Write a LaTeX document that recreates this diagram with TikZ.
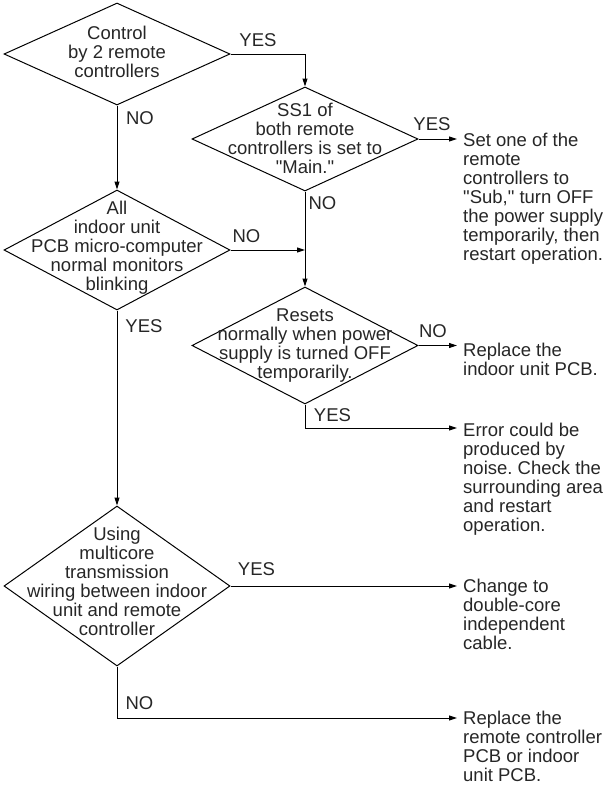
\documentclass[tikz,border=0pt]{standalone}
\usepackage{fontspec}
\setmainfont{Liberation Sans}
\usetikzlibrary{shapes.geometric,arrows.meta}
% plain font instance (no TeX ligature mapping) for straight double quotes
\font\qfnt="Liberation Sans" at 18.5pt
\newcommand{\dq}{{\qfnt\char34}}
\frenchspacing
\begin{document}
\begin{tikzpicture}[x=1pt,y=-1pt,
  txt/.style={font=\fontsize{18.5}{19}\selectfont, text=black!85, inner sep=0pt},
  decision/.style={draw, diamond, inner sep=0pt, line width=1pt, minimum width=226pt},
  question/.style={txt, align=center},
  answer/.style={txt, align=left, anchor=north west},
  tag/.style={txt},
  flow/.style={line width=1pt, -{Triangle[length=8pt,width=5pt]}}
]
\useasboundingbox (0,0) rectangle (611,785);

% decision diamonds
\node[decision, minimum height=102pt] (d1) at (117,54) {};
\node[decision, minimum height=104pt] (d2) at (305,139) {};
\node[decision, minimum height=120pt] (d3) at (117,250) {};
\node[decision, minimum height=117pt] (d4) at (305,345.5) {};
\node[decision, minimum height=160pt] (d5) at (117,586) {};

% questions
\node[question] (q1) at (117,52) {Control\\by 2 remote\\controllers};
\node[question] (q2) at (305,138) {SS1 of\\both remote\\controllers is set to\\\dq Main.\dq};
\node[question] (q3) at (117,248) {All\\indoor unit\\PCB micro-computer\\normal monitors\\blinking};
\node[question] (q4) at (305,345.5) {Resets\\normally when power\\supply is turned OFF\\temporarily.};
\node[question] (q5) at (117,581) {Using\\multicore\\transmission\\wiring between indoor\\unit and remote\\controller};

% outcomes
\node[answer] (a1) at (463,132.5) {Set one of the\\remote\\controllers to\\\dq Sub,\dq{} turn OFF\\the power supply\\temporarily, then\\restart operation.};
\node[answer] (a2) at (463,342.5) {Replace the\\indoor unit PCB.};
\node[answer] (a3) at (463,422.5) {Error could be\\produced by\\noise. Check the\\surrounding area\\and restart\\operation.};
\node[answer] (a4) at (463,578.5) {Change to\\double-core\\independent\\cable.};
\node[answer] (a5) at (463,711) {Replace the\\remote controller\\PCB or indoor\\unit PCB.};

% arrow ends in front of the outcomes
\coordinate (e1) at (457,139);
\coordinate (e2) at (457,345.5);
\coordinate (e3) at (457,428);
\coordinate (e4) at (457,586);
\coordinate (e5) at (457,718);
\coordinate (j1) at (d2.south |- d3.east);
\coordinate (k4) at (305,428);
\coordinate (k5) at (117,718);

% connectors
\draw[flow] (d1.east) -| (d2.north);
\draw[flow] (d1.south) -- (d3.north);
\draw[flow] (d2.east) -- (e1);
\draw[flow] (d2.south) -- (d4.north);
\draw[flow] (d3.east) -- (j1);
\draw[flow] (d3.south) -- (d5.north);
\draw[flow] (d4.east) -- (e2);
\draw[flow] (d4.south) -- (k4) -- (e3);
\draw[flow] (d5.east) -- (e4);
\draw[flow] (d5.south) -- (k5) -- (e5);

% branch labels
\node[tag] (y1) at (258,40) {YES};
\node[tag] (n1) at (140,118.5) {NO};
\node[tag] (y2) at (432,124) {YES};
\node[tag] (n2) at (322.5,203.5) {NO};
\node[tag] (n3) at (246.5,236.5) {NO};
\node[tag] (y3) at (144,326) {YES};
\node[tag] (n4) at (433,331.5) {NO};
\node[tag] (y4) at (332.5,415) {YES};
\node[tag] (y5) at (256.5,569.5) {YES};
\node[tag] (n5) at (139.5,703) {NO};
\end{tikzpicture}
\end{document}
